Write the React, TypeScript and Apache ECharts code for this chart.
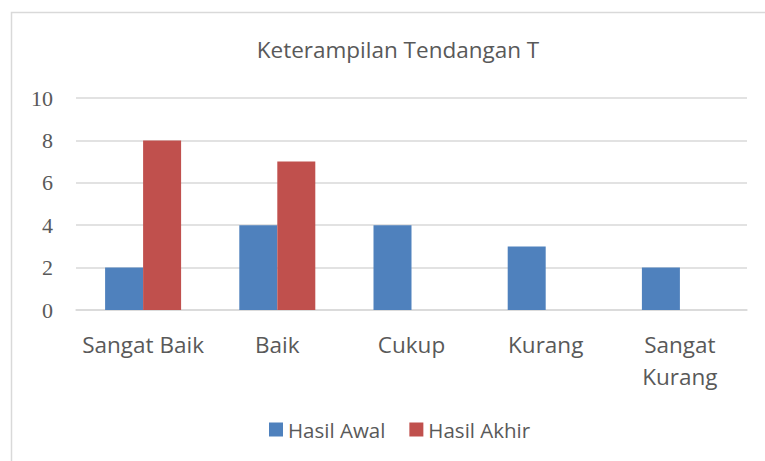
import React, { useEffect, useRef } from "react";
import * as echarts from "echarts";

const categories = ["Sangat Baik", "Baik", "Cukup", "Kurang", "Sangat\nKurang"];
const hasilAwal = [2, 4, 4, 3, 2];
const hasilAkhir = [8, 7, 0, 0, 0];
const yTicks = { min: 0, max: 10, interval: 2 };

export default function App() {
  const ref = useRef<HTMLDivElement>(null);
  useEffect(() => {
    document.body.style.margin = "0";
    const chart = echarts.init(ref.current!, null, { renderer: "svg" });
    const font = "'Open Sans', 'Noto Sans', sans-serif";
    chart.setOption({
      animation: false,
      backgroundColor: "#ffffff",
      title: {
        text: "Keterampilan Tendangan T",
        left: 393,
        textAlign: "center",
        top: 33,
        textStyle: { fontFamily: font, fontSize: 22.5, fontWeight: "normal", color: "#595959" },
      },
      graphic: [
        {
          type: "rect",
          shape: { x: 11.5, y: 12.5, width: 800, height: 500 },
          style: { fill: "none", stroke: "#D9D9D9", lineWidth: 1.5 },
          silent: true,
        },
      ],
      legend: {
        bottom: 16,
        left: 264,
        itemWidth: 14,
        itemHeight: 14,
        itemGap: 24,
        icon: "rect",
        textStyle: { fontFamily: font, fontSize: 20.5, color: "#595959" },
        data: ["Hasil Awal", "Hasil Akhir"],
      },
      grid: { left: 76, right: 18, top: 98, bottom: 151, containLabel: false },
      xAxis: {
        type: "category",
        data: categories,
        axisLine: { lineStyle: { color: "#D9D9D9", width: 1.5 } },
        axisTick: { show: false },
        axisLabel: {
          fontFamily: font,
          fontSize: 22.5,
          color: "#595959",
          margin: 18,
          lineHeight: 32,
          interval: 0,
        },
      },
      yAxis: {
        type: "value",
        min: yTicks.min,
        max: yTicks.max,
        interval: yTicks.interval,
        axisLine: { show: false },
        axisTick: { show: false },
        splitLine: { lineStyle: { color: "#D9D9D9", width: 1.5 } },
        axisLabel: {
          fontFamily: "'Liberation Serif', 'DejaVu Serif', serif",
          fontSize: 22,
          color: "#595959",
          margin: 23,
        },
      },
      series: [
        {
          name: "Hasil Awal",
          type: "bar",
          data: hasilAwal,
          barWidth: 38,
          barGap: "0%",
          itemStyle: { color: "#4F81BD" },
        },
        {
          name: "Hasil Akhir",
          type: "bar",
          data: hasilAkhir,
          barWidth: 38,
          barGap: "0%",
          itemStyle: { color: "#C0504D" },
        },
      ],
    });
    return () => chart.dispose();
  }, []);
  return <div ref={ref} style={{ width: 765, height: 461 }} />;
}
